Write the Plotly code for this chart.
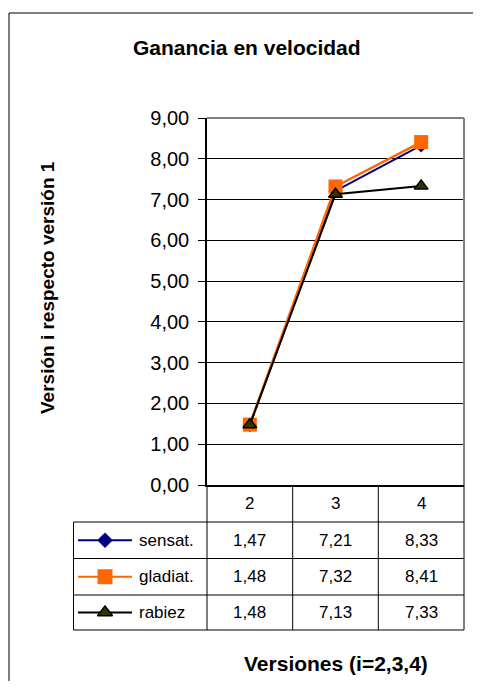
import plotly.graph_objects as go

# ---- data ----
categories = ["2", "3", "4"]
series_names = ["sensat.", "gladiat.", "rabiez"]
sensat = [1.47, 7.21, 8.33]
gladiat = [1.48, 7.32, 8.41]
rabiez = [1.48, 7.13, 7.33]
y_ticks = [0, 1, 2, 3, 4, 5, 6, 7, 8, 9]

title = "Ganancia en velocidad"
y_title = "Versión i respecto versión 1"
x_title = "Versiones (i=2,3,4)"

# ---- layout geometry (page pixels; the page body adds an 8px offset) ----
OFF = 8
W, H = 481 - 2 * OFF, 689 - 2 * OFF
PL, PR, PT, PB = 207, 464, 118, 485      # plot area
LEG_L = 73.5                            # legend column left edge
ROW_LINES = [485, 522, 558.5, 595, 630]  # header + 3 rows
COL_LINES = [207, 292.7, 378.3, 464]

FONT = "Liberation Sans, Arial, sans-serif"


def px(x):
    return (x - OFF) / W


def py(y):
    return 1 - (y - OFF) / H


styles = [
    dict(color="#000080", symbol="diamond", size=11, mlc="#000080", mlw=0, lc="#000080", lw=2),
    dict(color="#FF6600", symbol="square", size=14, mlc="#FF6600", mlw=0, lc="#FF6600", lw=2.5),
    dict(color="#333300", symbol="triangle-up", size=12, mlc="#000000", mlw=1.5, lc="#000000", lw=2),
]
data = [sensat, gladiat, rabiez]

fig = go.Figure()

for name, vals, st in zip(series_names, data, styles):
    fig.add_trace(go.Scatter(
        x=categories, y=vals, mode="lines+markers", name=name,
        line=dict(color=st["lc"], width=st["lw"]),
        marker=dict(color=st["color"], symbol=st["symbol"], size=st["size"],
                    line=dict(color=st["mlc"], width=st["mlw"])),
        showlegend=False, cliponaxis=False, xaxis="x", yaxis="y",
    ))

# legend keys inside the data table (overlay axes in page pixels)
for i, (name, st) in enumerate(zip(series_names, styles)):
    yc = (ROW_LINES[i + 1] + ROW_LINES[i + 2]) / 2
    fig.add_trace(go.Scatter(
        x=[78 - OFF, 132 - OFF], y=[yc - OFF, yc - OFF], mode="lines",
        line=dict(color=st["lc"], width=2),
        showlegend=False, xaxis="x2", yaxis="y2", hoverinfo="skip",
    ))
    fig.add_trace(go.Scatter(
        x=[105 - OFF], y=[yc - OFF], mode="markers",
        marker=dict(color=st["color"], symbol=st["symbol"], size=st["size"] + 1,
                    line=dict(color=st["mlc"], width=st["mlw"])),
        showlegend=False, xaxis="x2", yaxis="y2", hoverinfo="skip",
    ))
    fig.add_annotation(x=px(137), y=py(yc), xref="paper", yref="paper",
                       text=name, showarrow=False, xanchor="left", yanchor="middle",
                       font=dict(family=FONT, size=17, color="#000"))
    for j, v in enumerate(data[i]):
        xc = (COL_LINES[j] + COL_LINES[j + 1]) / 2
        fig.add_annotation(x=px(xc), y=py(yc), xref="paper", yref="paper",
                           text=f"{v:.2f}".replace(".", ","), showarrow=False,
                           xanchor="center", yanchor="middle",
                           font=dict(family=FONT, size=17, color="#000"))

# header cells (categories)
for j, c in enumerate(categories):
    xc = (COL_LINES[j] + COL_LINES[j + 1]) / 2
    fig.add_annotation(x=px(xc), y=py((ROW_LINES[0] + ROW_LINES[1]) / 2),
                       xref="paper", yref="paper", text=c, showarrow=False,
                       xanchor="center", yanchor="middle",
                       font=dict(family=FONT, size=17, color="#000"))

shapes = []
line_col = "#000000"
for yl in ROW_LINES[1:]:
    shapes.append(dict(type="line", xref="paper", yref="paper",
                       x0=px(LEG_L), x1=px(COL_LINES[-1]), y0=py(yl), y1=py(yl),
                       line=dict(color=line_col, width=1)))
for xl in COL_LINES:
    shapes.append(dict(type="line", xref="paper", yref="paper",
                       x0=px(xl), x1=px(xl), y0=py(ROW_LINES[0]), y1=py(ROW_LINES[-1]),
                       line=dict(color=line_col, width=1)))
shapes.append(dict(type="line", xref="paper", yref="paper",
                   x0=px(LEG_L), x1=px(LEG_L), y0=py(ROW_LINES[1]), y1=py(ROW_LINES[-1]),
                   line=dict(color=line_col, width=1)))
# plot area grey border (top / right)
shapes.append(dict(type="line", xref="paper", yref="paper",
                   x0=px(PL), x1=px(PR), y0=py(PT), y1=py(PT),
                   line=dict(color="#808080", width=2)))
shapes.append(dict(type="line", xref="paper", yref="paper",
                   x0=px(PR), x1=px(PR), y0=py(PT), y1=py(PB),
                   line=dict(color="#808080", width=2)))
# outer chart frame
shapes.append(dict(type="line", xref="paper", yref="paper",
                   x0=px(9), x1=1, y0=py(13), y1=py(13),
                   line=dict(color="#000", width=1)))
shapes.append(dict(type="line", xref="paper", yref="paper",
                   x0=px(9), x1=px(9), y0=py(13), y1=0,
                   line=dict(color="#000", width=1)))

fig.update_layout(
    width=W, height=H,
    margin=dict(l=0, r=0, t=0, b=0, pad=0, autoexpand=False),
    paper_bgcolor="white", plot_bgcolor="rgba(0,0,0,0)",
    separators=",.",
    showlegend=False,
    shapes=shapes,
    xaxis=dict(domain=[px(PL), px(PR)], type="category", range=[-0.5, 2.5],
               showticklabels=False, ticks="", showgrid=False, automargin=False,
               showline=True, linecolor="#000", linewidth=2, zeroline=False,
               fixedrange=True),
    yaxis=dict(domain=[py(PB), py(PT)], range=[0, 9], tickvals=y_ticks,
               tickformat=".2f", showgrid=True, gridcolor="#000", gridwidth=1,
               ticks="outside", ticklen=7, tickcolor="#000", tickwidth=1,
               ticklabelstandoff=5, automargin=False,
               showline=True, linecolor="#000", linewidth=1.5, zeroline=False,
               tickfont=dict(family=FONT, size=20, color="#000"), fixedrange=True),
    xaxis2=dict(domain=[0, 1], range=[0, W], visible=False, anchor="y2",
                automargin=False, fixedrange=True),
    yaxis2=dict(domain=[0, 1], range=[H, 0], visible=False, anchor="x2",
                automargin=False, fixedrange=True),
)

fig.add_annotation(x=px(247), y=py(47), xref="paper", yref="paper", text=f"<b>{title}</b>",
                   showarrow=False, xanchor="center", yanchor="middle",
                   font=dict(family=FONT, size=21, color="#000"))
fig.add_annotation(x=px(47), y=py(288), xref="paper", yref="paper", text=f"<b>{y_title}</b>",
                   showarrow=False, xanchor="center", yanchor="middle", textangle=-90,
                   font=dict(family=FONT, size=19, color="#000"))
fig.add_annotation(x=px(336), y=py(663), xref="paper", yref="paper", text=f"<b>{x_title}</b>",
                   showarrow=False, xanchor="center", yanchor="middle",
                   font=dict(family=FONT, size=21, color="#000"))

fig.write_html("out.html")
